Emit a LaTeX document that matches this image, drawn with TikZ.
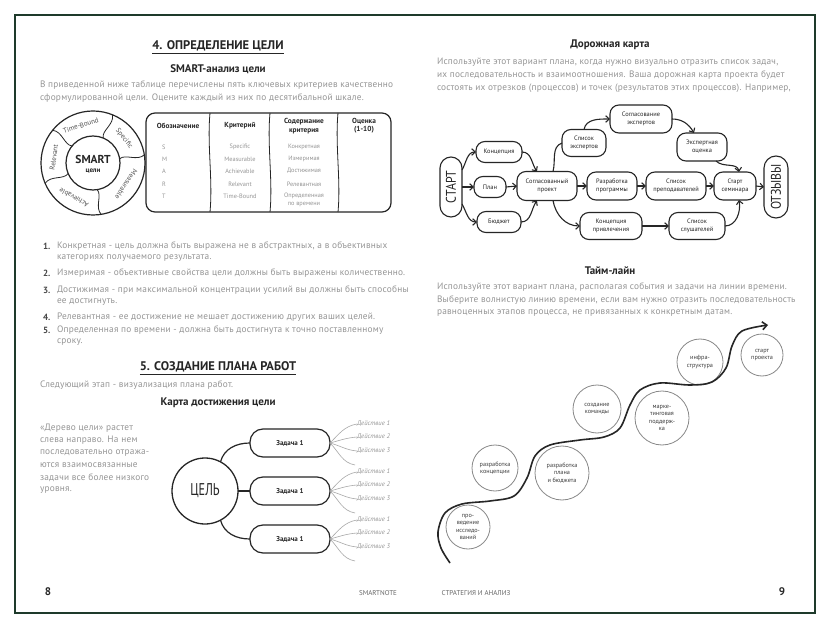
\documentclass[tikz,border=0pt]{standalone}
\usepackage{fontspec}
\setmainfont{PT Sans}
\newfontfamily\bodyf{PT Sans}[LetterSpace=2.5]
\usetikzlibrary{arrows.meta,calc}
\definecolor{ink}{HTML}{262626}
\definecolor{txt}{HTML}{959595}
\definecolor{frm}{HTML}{1E3A2B}
\definecolor{twigc}{HTML}{A8A8A8}
\begin{document}
\begin{tikzpicture}[x=1pt,y=1pt,
  every node/.style={inner sep=0pt,outer sep=0pt},
  h1/.style={font=\fontsize{12.5}{14}\selectfont\bfseries,text=ink},
  h2/.style={font=\fontsize{11}{13}\selectfont\bfseries,text=ink},
  body/.style={font=\bodyf\fontsize{9.3}{10}\selectfont,text=txt,anchor=west},
  num/.style={font=\fontsize{9}{10}\selectfont\bfseries,text=ink!85,anchor=west},
  th/.style={font=\fontsize{7.3}{8.3}\selectfont\bfseries,text=ink,align=center},
  td/.style={font=\fontsize{6.3}{7}\selectfont,text=txt},
  ringlab/.style={font=\fontsize{7}{8}\selectfont,text=ink!80},
  task/.style={draw=ink,line width=1.2pt,rounded corners=13pt,minimum width=80pt,minimum height=28pt,font=\fontsize{7}{8}\selectfont\bfseries,text=ink},
  act/.style={font=\fontsize{6.6}{7}\selectfont\itshape,text=txt,anchor=west},
  conn/.style={draw=ink,line width=1.2pt},
  twig/.style={draw=twigc,line width=0.6pt},
  rm/.style={draw=ink,line width=1.1pt,rounded corners=9pt,align=center,font=\fontsize{6.4}{7.8}\selectfont,text=ink},
  arr/.style={draw=ink,line width=1.1pt,-{Straight Barb[length=3.5pt,width=6.5pt]}},
  tl/.style={circle,draw=ink!55,line width=0.8pt,align=center,font=\fontsize{6.2}{7.4}\selectfont,text=ink!90},
  foot/.style={font=\fontsize{7}{8}\selectfont,text=ink!70},
  pg/.style={font=\fontsize{11}{12}\selectfont\bfseries,text=ink},
]
\fill[white] (0,0) rectangle (830,-628);
\useasboundingbox (0,0) rectangle (830,-628);
\draw[frm,line width=1.5pt] (15,-15) rectangle (815,-613);

% ---------- LEFT PAGE ----------
\node[h1] (t4) at (218,-46) {4. ОПРЕДЕЛЕНИЕ ЦЕЛИ};
\draw[ink,line width=0.9pt] ([yshift=-2pt]t4.south west) -- ([yshift=-2pt]t4.south east);
\node[h2] (smt) at (218,-69) {SMART-анализ цели};
\node[body] (p1) at (40,-85) {В приведенной ниже таблице перечислены пять ключевых критериев качественно};
\node[body] (p2) at (40,-98) {сформулированной цели. Оцените каждый из них по десятибальной шкале.};

% SMART ring
\begin{scope}[shift={(93,-163)}]
  \draw[ink,line width=1.2pt] (0,0) circle[radius=52];
  \draw[ink,line width=1.2pt] (0,0) circle[radius=27];
  \foreach \a in {68,9,-81,-157,141}
    \draw[ink,line width=0.8pt] (\a:27) .. controls (\a+7:34) and (\a-7:44) .. (\a:52);
  \node[font=\fontsize{11.5}{12}\selectfont\bfseries,text=ink] (sm) at (0,4) {SMART};
  \node[font=\fontsize{7}{8}\selectfont\bfseries,text=ink] (sc) at (0,-8) {цели};
  \node[ringlab,rotate=18] (rt) at (108:39.5) {Time-Bound};
  \node[ringlab,rotate=-52] (rs) at (38:39.5) {Specific};
  \node[ringlab,rotate=-123] (rm) at (-33:39.5) {Measurable};
  \node[ringlab,rotate=151] (ra) at (-119:39.5) {Achievable};
  \node[ringlab,rotate=82] (rr) at (172:39.5) {Relevant};
\end{scope}

% table
\draw[ink,line width=1.2pt,rounded corners=9pt] (146,-113) rectangle (391,-212);
\foreach \x in {210,270,338}
  \draw[ink,line width=0.8pt] (\x,-113) .. controls (\x-3,-145) and (\x+3,-180) .. (\x,-212);
\node[th] (h1) at (178,-126) {Обозначение};
\node[th] (h2) at (240,-126) {Критерий};
\node[th] (h3) at (304,-126) {Содержание\\критерия};
\node[th] (h4) at (364,-126) {Оценка\\(1-10)};
\foreach \l/\e/\r/\y in {S/Specific/Конкретная/147, M/Measurable/Измеримая/159, A/Achievable/Достижимая/171, R/Relevant/Релевантная/184, T/Time-Bound/Определенная/196}{
  \node[td,anchor=west] at (162,-\y) {\l};
  \node[td] at (240,-\y) {\e};
  \node[td] at (304,-\y) {\r};
}
\node[td] at (304,-205) {по времени};

% list
\node[num] at (43,-246) {1.};
\node[body] at (57,-246) {Конкретная - цель должна быть выражена не в абстрактных, а в объективных};
\node[body] at (57,-258) {категориях получаемого результата.};
\node[num] at (43,-273) {2.};
\node[body] at (57,-273) {Измеримая - объективные свойства цели должны быть выражены количественно.};
\node[num] at (43,-290) {3.};
\node[body] at (57,-290) {Достижимая - при максимальной концентрации усилий вы должны быть способны};
\node[body] at (57,-302) {ее достигнуть.};
\node[num] at (43,-317) {4.};
\node[body] at (57,-317) {Релевантная - ее достижение не мешает достижению других ваших целей.};
\node[num] at (43,-330) {5.};
\node[body] at (57,-330) {Определенная по времени - должна быть достигнута к точно поставленному};
\node[body] at (57,-342) {сроку.};

\node[h1] (t5) at (218,-367) {5. СОЗДАНИЕ ПЛАНА РАБОТ};
\draw[ink,line width=0.9pt] ([yshift=-2pt]t5.south west) -- ([yshift=-2pt]t5.south east);
\node[body] at (40,-385) {Следующий этап - визуализация плана работ.};
\node[h2] (kd) at (218,-403) {Карта достижения цели};

\node[body] at (40,-428) {«Дерево цели» растет};
\node[body] at (40,-440.5) {слева направо. На нем};
\node[body] at (40,-453) {последовательно отража-};
\node[body] at (40,-465.5) {ются взаимосвязанные};
\node[body] at (40,-478) {задачи все более низкого};
\node[body] at (40,-490.5) {уровня.};

% tree
\node[circle,draw=ink,line width=1.3pt,minimum size=66pt,font=\fontsize{17}{18}\selectfont,text=ink] (goal) at (205,-491) {\scalebox{0.72}[1]{ЦЕЛЬ}};
\node[task] (k1) at (290,-443) {Задача 1};
\node[task] (k2) at (290,-491) {Задача 1};
\node[task] (k3) at (290,-539) {Задача 1};
\draw[conn] (goal.62) to[out=75,in=180] (k1.west);
\draw[conn] (goal.east) -- (k2.west);
\draw[conn] (goal.-62) to[out=-75,in=180] (k3.west);
\foreach \k/\y in {1/443,2/491,3/539}{
  \node[act] (a\k a) at (357,-\y+19) {Действие 1};
  \node[act] (a\k b) at (357,-\y+6) {Действие 2};
  \node[act] (a\k c) at (357,-\y-8) {Действие 3};
  \coordinate (a\k d) at (355,-\y-22);
  \draw[twig] (k\k.east) to[out=45,in=190] (a\k a.west);
  \draw[twig] (k\k.east) to[out=15,in=185] (a\k b.west);
  \draw[twig] (k\k.east) to[out=-15,in=175] (a\k c.west);
  \draw[twig] (k\k.east) to[out=-45,in=170] (a\k d);
}

% ---------- RIGHT PAGE ----------
\node[h2] (dk) at (610,-45) {Дорожная карта};
\node[body] at (437,-62) {Используйте этот вариант плана, когда нужно визуально отразить список задач,};
\node[body] at (437,-75) {их последовательность и взаимоотношения. Ваша дорожная карта проекта будет};
\node[body] at (437,-88) {состоять их отрезков (процессов) и точек (результатов этих процессов). Например,};

\node[rm,rotate=90,minimum width=60pt,minimum height=22pt,rounded corners=11pt,font=\fontsize{14}{15}\selectfont] (start) at (451,-187) {\scalebox{0.85}[1]{СТАРТ}};
\node[rm,minimum width=46pt,minimum height=21pt] (conc) at (499,-152) {Концепция};
\node[rm,minimum width=32pt,minimum height=21pt] (plan) at (490,-187) {План};
\node[rm,minimum width=44pt,minimum height=21pt] (budg) at (499,-222) {Бюджет};
\node[rm,minimum width=60pt,minimum height=29pt] (agr) at (547,-186) {Согласованный\\проект};
\node[rm,minimum width=44pt,minimum height=27pt] (exp) at (584,-143) {Список\\экспертов};
\node[rm,minimum width=62pt,minimum height=28pt] (agrexp) at (641,-119) {Согласование\\экспертов};
\node[rm,minimum width=50pt,minimum height=28pt] (eval) at (702,-147) {Экспертная\\оценка};
\node[rm,minimum width=50pt,minimum height=28pt] (prog) at (612,-186) {Разработка\\программы};
\node[rm,minimum width=60pt,minimum height=28pt] (teach) at (676,-186) {Список\\преподавателей};
\node[rm,minimum width=42pt,minimum height=28pt] (ss) at (735,-186) {Старт\\семинара};
\node[rm,rotate=90,minimum width=62pt,minimum height=24pt,rounded corners=12pt,font=\fontsize{14}{15}\selectfont] (otz) at (776,-187) {\scalebox{0.85}[1]{ОТЗЫВЫ}};
\node[rm,minimum width=62pt,minimum height=27pt] (attr) at (611,-226) {Концепция\\привлечения};
\node[rm,minimum width=56pt,minimum height=27pt] (lst) at (697,-226) {Список\\слушателей};

\draw[arr] ($(start.center)+(11,17)$) to[out=60,in=180] (conc.west);
\draw[arr] (start.south) -- (plan.west);
\draw[arr] ($(start.center)+(11,-17)$) to[out=-60,in=180] (budg.west);
\draw[arr] (conc.east) to[out=0,in=125] ($(agr.north)+(-10,0)$);
\draw[arr] (plan.east) -- (agr.west);
\draw[arr] (budg.east) to[out=0,in=-125] ($(agr.south)+(-10,0)$);
\draw[ink,line width=1.1pt] ($(agr.north)+(6,0)$) to[out=75,in=200] (exp.west);
\draw[arr] (exp.north) to[out=80,in=180] (agrexp.west);
\draw[arr] (agrexp.east) to[out=0,in=120] ($(eval.north)+(-8,0)$);
\draw[arr] ($(eval.south)+(14,0)$) to[out=-45,in=100] ($(ss.north)+(4,0)$);
\draw[arr] (agr.east) -- (prog.west);
\draw[arr] (prog.east) -- (teach.west);
\draw[arr] (teach.east) -- (ss.west);
\draw[arr] (ss.east) -- (otz.north);
\draw[arr] ($(agr.south)+(6,0)$) to[out=-80,in=180] (attr.west);
\draw[arr] (attr.east) -- (lst.west);
\draw[arr] (lst.east) to[out=0,in=-80] ($(ss.south)+(4,0)$);

\node[h2] (tll) at (610,-271) {Тайм-лайн};
\node[body] at (437,-287) {Используйте этот вариант плана, располагая события и задачи на линии времени.};
\node[body] at (437,-300) {Выберите волнистую линию времени, если вам нужно отразить последовательность};
\node[body] at (437,-313) {равноценных этапов процесса, не привязанных к конкретным датам.};

\node[tl,minimum size=44pt] (res) at (468,-527) {про-\\ведение\\исследо-\\ваний};
\node[tl,minimum size=46pt] (cn2) at (495,-468) {разработка\\концепции};
\node[tl,minimum size=54pt] (plb) at (562,-473) {разработка\\плана\\и бюджета};
\node[tl,minimum size=48pt] (team) at (597,-409) {создание\\команды};
\node[tl,minimum size=54pt] (mkt) at (662,-418) {марке-\\тинговая\\поддерж-\\ка};
\node[tl,minimum size=46pt] (infra) at (700,-362) {инфра-\\структура};
\node[tl,minimum size=42pt] (sp) at (762,-355) {старт\\проекта};

\draw[ink,line width=1.6pt,-{Straight Barb[length=4.5pt,width=8pt]}] plot[smooth,tension=0.55] coordinates {(450,-563) (441,-548) (438,-532) (445,-513) (462,-504) (490,-501) (514,-496) (527,-478) (535,-456) (550,-445) (580,-440) (604,-437) (620,-428) (630,-405) (640,-390) (660,-383) (690,-385) (712,-382) (726,-368) (732,-346) (742,-331) (768,-325)};

% footer
\node[pg] (n8) at (48,-592) {8};
\node[foot] (sn) at (378,-593) {SMARTNOTE};
\node[foot] (sa) at (476,-593) {СТРАТЕГИЯ И АНАЛИЗ};
\node[pg] (n9) at (782,-592) {9};
\end{tikzpicture}
\end{document}
